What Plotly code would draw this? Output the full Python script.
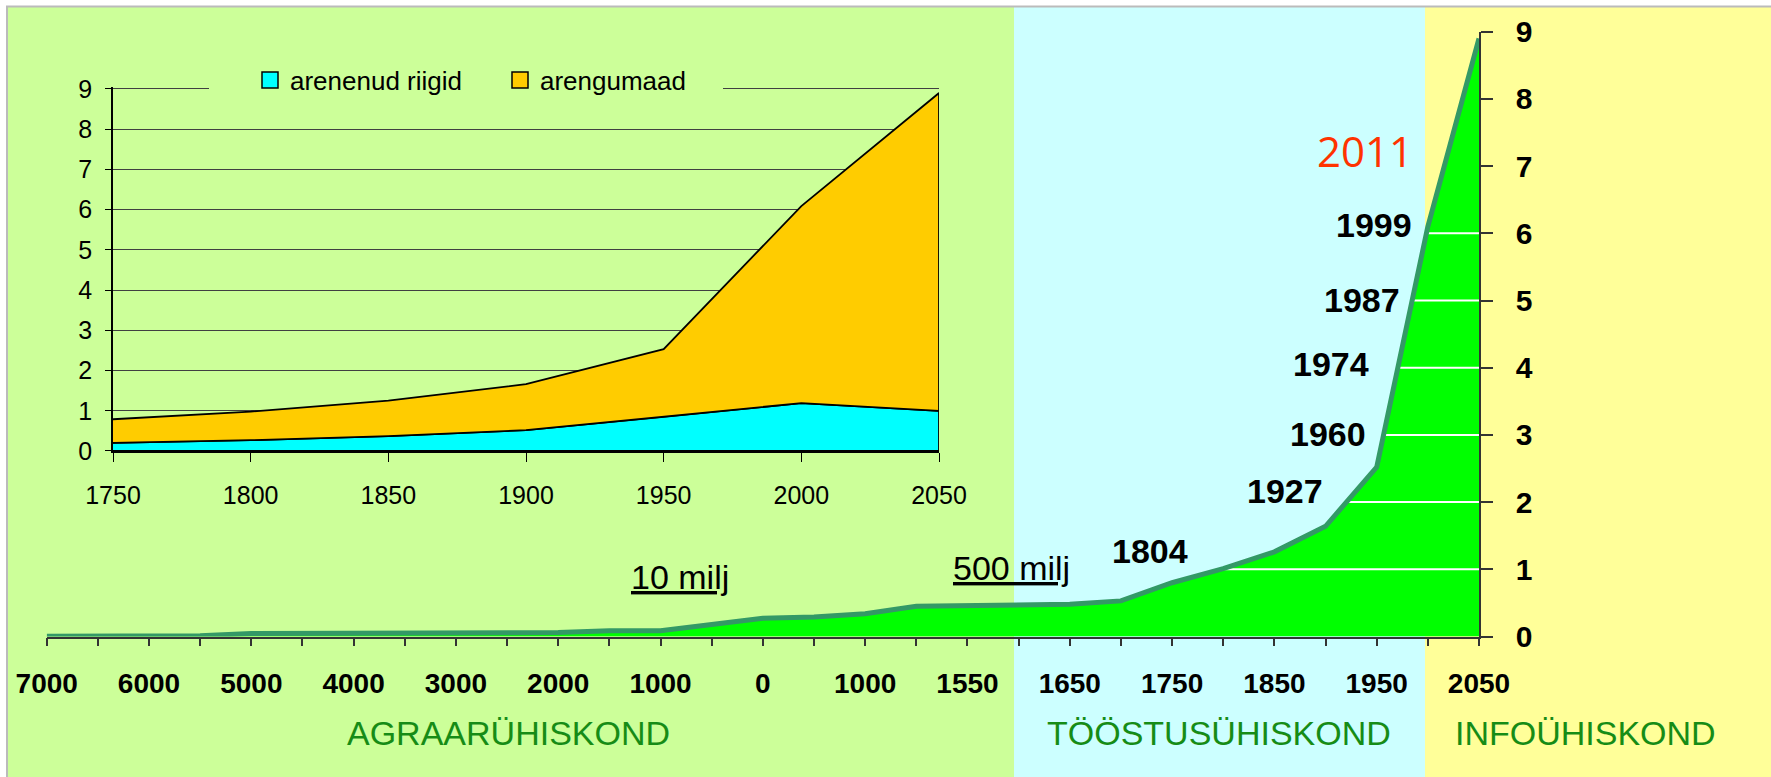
import numpy as np
import plotly.graph_objects as go

W, H = 1771, 777

# ---------------- data ----------------
# main chart: world population (billions) on a category axis
main_categories = ["7000", "6500", "6000", "5500", "5000", "4500", "4000", "3500",
                   "3000", "2500", "2000", "1500", "1000", "500", "0", "500",
                   "1000", "1300", "1550", "1600", "1650", "1700", "1750", "1800",
                   "1850", "1900", "1950", "2000", "2050"]
main_tick_labels = ["7000", "", "6000", "", "5000", "", "4000", "", "3000", "",
                    "2000", "", "1000", "", "0", "", "1000", "", "1550", "",
                    "1650", "", "1750", "", "1850", "", "1950", "", "2050"]
main_population = [0.005, 0.005, 0.005, 0.01, 0.045, 0.045, 0.045, 0.045,
                   0.055, 0.055, 0.06, 0.085, 0.085, 0.18, 0.27, 0.29,
                   0.34, 0.45, 0.46, 0.46, 0.48, 0.53, 0.80, 1.01,
                   1.26, 1.64, 2.52, 6.1, 8.9]
billion_levels = [1, 2, 3, 4, 5, 6]
milestone_years = ["1804", "1927", "1960", "1974", "1987", "1999"]

# inset chart: developed vs developing countries (billions)
inset_years = [1750, 1800, 1850, 1900, 1950, 2000, 2050]
developed = [0.20, 0.27, 0.37, 0.52, 0.85, 1.19, 1.00]
developing = [0.59, 0.71, 0.88, 1.14, 1.68, 4.90, 7.90]
series_names = ["arenenud riigid", "arengumaad"]

era_names = ["AGRAARÜHISKOND", "TÖÖSTUSÜHISKOND", "INFOÜHISKOND"]

# ---------------- helpers ----------------
def px(x):
    return x / W

def py(y):
    return 1 - y / H

FONT = "Liberation Sans"
idx = np.arange(len(main_categories))
vals = np.array(main_population)

fig = go.Figure()

# main area fill
fig.add_trace(go.Scatter(x=idx, y=vals, mode="lines", fill="tozeroy",
                         fillcolor="#00FF00", line=dict(width=0),
                         xaxis="x", yaxis="y", showlegend=False, hoverinfo="skip"))
# white billion lines from curve to axis
tail = slice(18, None)
for lvl in billion_levels:
    xc = float(np.interp(lvl, vals[tail], idx[tail]))
    fig.add_trace(go.Scatter(x=[xc, idx[-1]], y=[lvl, lvl], mode="lines",
                             line=dict(color="white", width=2),
                             xaxis="x", yaxis="y", showlegend=False, hoverinfo="skip"))
# dark green edge
fig.add_trace(go.Scatter(x=idx, y=vals, mode="lines",
                         line=dict(color="#339966", width=5),
                         xaxis="x", yaxis="y", showlegend=False, hoverinfo="skip"))

# inset stacked areas as polygons
total = [a + b for a, b in zip(developed, developing)]
yrs_back = inset_years[::-1]
fig.add_trace(go.Scatter(x=inset_years + yrs_back, y=developed + [0] * len(inset_years),
                         fill="toself", fillcolor="#00FFFF", mode="lines",
                         line=dict(color="black", width=1.8),
                         xaxis="x2", yaxis="y2", showlegend=False, hoverinfo="skip"))
fig.add_trace(go.Scatter(x=inset_years + yrs_back, y=total + developed[::-1],
                         fill="toself", fillcolor="#FFCC00", mode="lines",
                         line=dict(color="black", width=1.8),
                         xaxis="x2", yaxis="y2", showlegend=False, hoverinfo="skip"))
# legend entries
for name, col in zip(series_names, ["#00FFFF", "#FFCC00"]):
    fig.add_trace(go.Scatter(x=[None], y=[None], mode="markers", name=name,
                             marker=dict(symbol="square", size=16, color=col,
                                         line=dict(color="black", width=1.5)),
                             xaxis="x2", yaxis="y2"))

# ---------------- background ----------------
shapes = [
    dict(type="rect", xref="paper", yref="paper", x0=px(7), x1=px(1014), y0=0, y1=py(7),
         fillcolor="#CCFF99", line=dict(width=0), layer="below"),
    dict(type="rect", xref="paper", yref="paper", x0=px(1014), x1=px(1425), y0=0, y1=py(7),
         fillcolor="#CCFFFF", line=dict(width=0), layer="below"),
    dict(type="rect", xref="paper", yref="paper", x0=px(1425), x1=1, y0=0, y1=py(7),
         fillcolor="#FFFF99", line=dict(width=0), layer="below"),
    dict(type="line", xref="paper", yref="paper", x0=px(6), x1=1, y0=py(6.5), y1=py(6.5),
         line=dict(color="#BBBBBB", width=2), layer="below"),
    dict(type="line", xref="paper", yref="paper", x0=px(7), x1=px(7), y0=0, y1=py(6.5),
         line=dict(color="#BBBBBB", width=2), layer="below"),
    # legend backing box (interrupts the top gridline of the inset)
    dict(type="rect", xref="paper", yref="paper", x0=px(209), x1=px(723),
         y0=py(100), y1=py(62), fillcolor="#CCFF99", line=dict(width=0), layer="above"),
]

# ---------------- annotations ----------------
ann = []
label_pos = {"1804": (1150, 551), "1927": (1285, 491), "1960": (1328, 434),
             "1974": (1331, 364), "1987": (1362, 300), "1999": (1374, 225)}
for lab in milestone_years:
    x0, y0 = label_pos[lab]
    ann.append(dict(text=lab, x=px(x0), y=py(y0), xref="paper", yref="paper",
                    showarrow=False, xanchor="center", yanchor="middle",
                    font=dict(family=FONT, size=34, color="black", weight="bold")))
ann.append(dict(text="2011", x=px(1365), y=py(150), xref="paper", yref="paper",
                showarrow=False, xanchor="center", yanchor="middle",
                font=dict(family="Open Sans", size=42, color="#FF3300")))
for t, (x0, y0) in [("10 milj", (680, 577)), ("500 milj", (1011, 568))]:
    ann.append(dict(text="<u>" + t + "</u>", x=px(x0), y=py(y0), xref="paper", yref="paper",
                    showarrow=False, xanchor="center", yanchor="middle",
                    font=dict(family=FONT, size=34, color="black")))
for t, x0 in zip(era_names, [509, 1219, 1585]):
    ann.append(dict(text=t, x=px(x0), y=py(733), xref="paper", yref="paper",
                    showarrow=False, xanchor="center", yanchor="middle",
                    font=dict(family=FONT, size=34, color="#168C16")))

# inset y: 0 at 451 px, 9 at 89 px; range extended slightly so the top gridline is drawn
inset_top = 9.05
inset_unit = (451 - 89) / 9

fig.update_layout(
    width=W, height=H, margin=dict(l=0, r=0, t=0, b=0, pad=0, autoexpand=False),
    paper_bgcolor="white", plot_bgcolor="rgba(0,0,0,0)",
    shapes=shapes, annotations=ann,
    xaxis=dict(domain=[px(46.7), px(1479)], range=[0, len(main_categories) - 1],
               tickmode="array", tickvals=list(idx), ticktext=main_tick_labels,
               ticks="outside", ticklen=8, tickcolor="#333333", tickwidth=1.5,
               showline=True, linecolor="#333333", linewidth=1.5, automargin=False,
               showgrid=False, zeroline=False, anchor="y", tickangle=0,
               tickfont=dict(family=FONT, size=28, color="black", weight="bold"),
               ticklabelstandoff=13),
    yaxis=dict(domain=[py(636.5), py(31.7)], range=[0, 9], side="right", anchor="x",
               tickmode="linear", tick0=0, dtick=1, automargin=False,
               ticks="outside", ticklen=12, tickcolor="#333333", tickwidth=1.5,
               showline=True, linecolor="#333333", linewidth=1.5,
               showgrid=False, zeroline=False,
               tickfont=dict(family=FONT, size=30, color="black", weight="bold"),
               ticklabelstandoff=17),
    xaxis2=dict(domain=[px(113), px(939)], range=[1750, 2050], anchor="y2",
                tickmode="array", tickvals=inset_years, automargin=False,
                ticks="outside", ticklen=9, tickcolor="black", tickwidth=1.2,
                showline=True, linecolor="black", linewidth=1.5,
                showgrid=False, zeroline=False,
                tickfont=dict(family=FONT, size=25, color="black"),
                ticklabelstandoff=12),
    yaxis2=dict(domain=[py(451), py(451 - inset_top * inset_unit)], range=[0, inset_top],
                anchor="x2", tickmode="array", tickvals=list(range(10)), automargin=False,
                ticks="outside", ticklen=6, tickcolor="black", tickwidth=1.2,
                showline=True, linecolor="black", linewidth=1.5,
                showgrid=True, gridcolor="#404040", gridwidth=1, zeroline=False,
                tickfont=dict(family=FONT, size=25, color="black"),
                ticklabelstandoff=8),
    showlegend=True,
    legend=dict(orientation="h", x=px(250), y=py(80), xanchor="left", yanchor="middle",
                bgcolor="rgba(0,0,0,0)", borderwidth=0, entrywidth=205,
                font=dict(family=FONT, size=26, color="black")),
)

fig.write_html("out.html", config={"displayModeBar": False},
               post_script="document.body.style.margin='0';"
                           "document.body.style.overflow='hidden';")
